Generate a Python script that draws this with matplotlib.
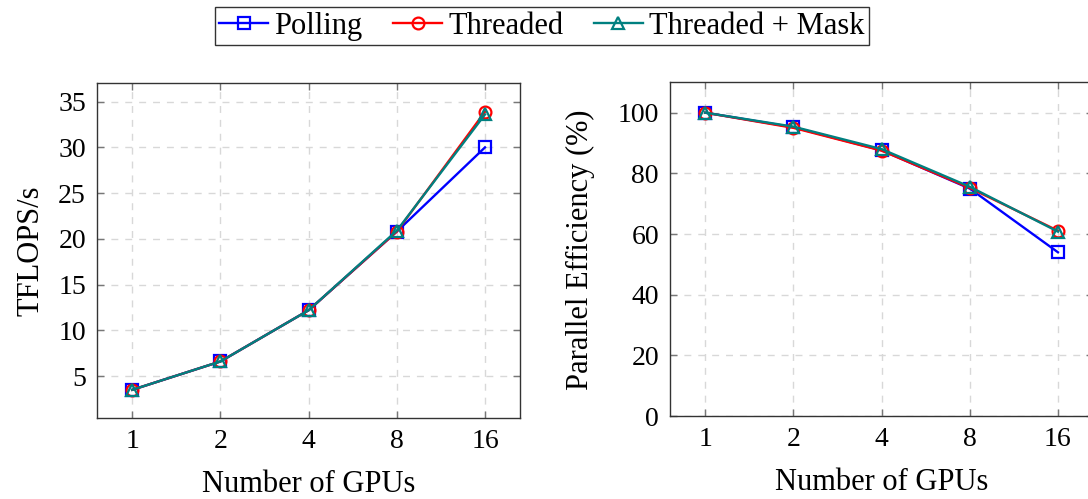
import matplotlib
matplotlib.use("Agg")
import matplotlib.pyplot as plt

plt.rcParams["font.family"] = ["Liberation Serif", "DejaVu Serif"]
plt.rcParams["mathtext.fontset"] = "stix"

# data
gpus = ["1", "2", "4", "8", "16"]
tflops_polling = [3.5, 6.6, 12.2, 20.8, 30.0]
tflops_threaded = [3.5, 6.6, 12.2, 20.8, 33.9]
tflops_mask = [3.5, 6.6, 12.2, 20.9, 33.6]
eff_polling = [100, 95.2, 87.6, 75.0, 54.0]
eff_threaded = [100, 95.0, 87.5, 75.2, 61.1]
eff_mask = [100, 95.4, 88.0, 75.6, 60.8]

series = [
    ("Polling", tflops_polling, eff_polling, "blue", "s"),
    ("Threaded", tflops_threaded, eff_threaded, "red", "o"),
    ("Threaded + Mask", tflops_mask, eff_mask, "#008080", "^"),
]

fig = plt.figure(figsize=(10.88, 4.99), dpi=100)
ax1 = fig.add_axes([0.0892, 0.162, 0.389, 0.671])
ax2 = fig.add_axes([0.6158, 0.166, 0.389, 0.669])

x = list(range(len(gpus)))

def style(ax):
    ax.set_xlim(-0.4, len(gpus) - 1 + 0.4)
    ax.set_xticks(x)
    ax.set_xticklabels(gpus)
    ax.grid(True, color="#d8d8d8", linestyle=(0, (5, 5)), linewidth=1.0)
    ax.set_axisbelow(True)
    ax.tick_params(direction="in", length=5, width=1, color="#777777",
                   top=True, right=True, labelsize=20, pad=8)
    for s in ax.spines.values():
        s.set_linewidth(1.0)
        s.set_color("#333333")
    ax.set_xlabel("Number of GPUs", fontsize=22, labelpad=11)

handles = []
for name, tf, ef, col, mk in series:
    h, = ax1.plot(x, tf, color=col, marker=mk, markerfacecolor="none",
                  markeredgecolor=col, markersize=8.5, markeredgewidth=1.6,
                  linewidth=1.7, label=name)
    ax2.plot(x, ef, color=col, marker=mk, markerfacecolor="none",
             markeredgecolor=col, markersize=8.5, markeredgewidth=1.6,
             linewidth=1.7)
    handles.append(h)

style(ax1)
ax1.set_ylim(0.4, 37)
ax1.set_yticks([5, 10, 15, 20, 25, 30, 35])
ax1.set_ylabel("TFLOPS/s", fontsize=22, labelpad=9)

style(ax2)
ax2.set_ylim(0, 110)
ax2.set_yticks([0, 20, 40, 60, 80, 100])
ax2.set_ylabel("Parallel Efficiency (%)", fontsize=22, labelpad=16)

leg = fig.legend(handles=handles, loc="upper center", bbox_to_anchor=(0.498, 0.995),
                 ncol=3, fontsize=22, frameon=True, fancybox=False,
                 edgecolor="black", handlelength=1.6, handletextpad=0.2,
                 columnspacing=1.0, borderpad=0.15, borderaxespad=0.15)
leg.get_frame().set_linewidth(1.0)

fig.savefig("out.png", dpi=100)
